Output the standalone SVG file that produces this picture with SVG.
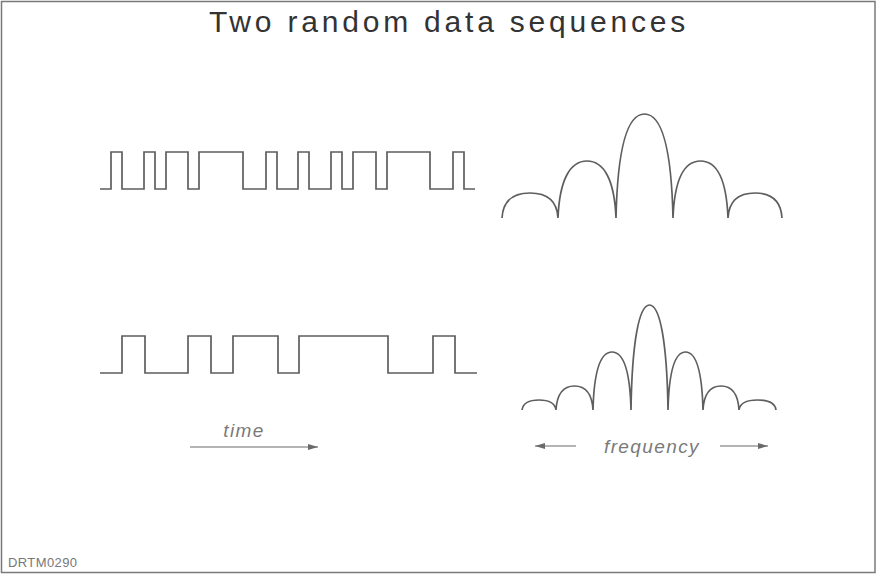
<svg xmlns="http://www.w3.org/2000/svg" width="877" height="575" viewBox="0 0 877 575">
  <style>
    .trace { fill: none; stroke: #5e5e5e; stroke-width: 1.7; stroke-linejoin: miter; }
    .axis { fill: none; stroke: #6a6a6a; stroke-width: 1.2; }
    .title { font-family: "Liberation Sans", Arial, sans-serif; font-size: 30px; fill: #333333; letter-spacing: 3.8px; }
    .label { font-family: "Liberation Sans", Arial, sans-serif; font-style: italic; font-size: 19px; fill: #7a7a7a; letter-spacing: 1.4px; }
    .tag { font-family: "Liberation Sans", Arial, sans-serif; font-size: 13px; fill: #777777; letter-spacing: 0.4px; }
  </style>
  <defs>
    <marker id="head" viewBox="0 0 10 6" refX="10" refY="3" markerWidth="10" markerHeight="6" markerUnits="userSpaceOnUse" orient="auto-start-reverse">
      <path d="M0,0 L10,3 L0,6 Z" fill="#6a6a6a"/>
    </marker>
  </defs>

  <rect x="0" y="0" width="877" height="575" fill="#ffffff"/>
  <rect x="1.5" y="1.5" width="873.5" height="571" fill="none" stroke="#7a7a7a" stroke-width="1.5"/>

  <text class="title" x="449" y="32" text-anchor="middle">Two random data sequences</text>

  <!-- time-domain sequences -->
  <g id="sequence-fast">
    <path class="trace" d="M100,189 H111 V152 H122 V189 H144 V152 H155 V189 H166 V152 H188 V189 H199 V152 H243 V189 H266 V152 H277 V189 H298 V152 H309 V189 H331 V152 H342 V189 H353 V152 H376 V189 H387 V152 H430 V189 H453 V152 H464 V189 H475"/>
  </g>
  <g id="sequence-slow">
    <path class="trace" d="M100,373 H122 V336 H145 V373 H188 V336 H211 V373 H233 V336 H278 V373 H299 V336 H388 V373 H433 V336 H455 V373 H477"/>
  </g>

  <!-- spectra: |sinc|-like lobes -->
  <g id="spectrum-wide">
    <path class="trace" d="M502,218 C503,200 514,193 530,193 C546,193 557,200 558,218
      C559.5,180 570,161 587,161 C604,161 614.5,180 616,218
      C617.5,150 627,114 644.5,114 C662,114 671.5,150 673,218
      C674.5,180 684,161 700.5,161 C717,161 726.5,180 728,218
      C729,200 739,193 755,193 C771,193 781,200 782,218"/>
  </g>
  <g id="spectrum-narrow">
    <path class="trace" d="M522,410 C523,403 529,400 539,400 C549,400 555,403 556,410
      C557,393 564,386 574.5,386 C585,386 592,393 593,410
      C594,370 601,352 612,352 C623,352 630,370 631,410
      C632,342 639,305 649.5,305 C660,305 667,342 668,410
      C669,370 675,352 685.5,352 C696,352 702,370 703,410
      C704,393 710,386 721,386 C732,386 738,393 739,410
      C740,403 747,400 757.5,400 C768,400 775,403 776,410"/>
  </g>

  <!-- axis labels -->
  <g id="time-axis">
    <text class="label" x="244" y="437" text-anchor="middle">time</text>
  </g>
  <g id="frequency-axis">
    <text class="label" x="652" y="453" text-anchor="middle">frequency</text>
  </g>

  <g id="connectors">
    <line class="axis" x1="190" y1="447" x2="318" y2="447" marker-end="url(#head)"/>
    <line class="axis" x1="576" y1="446" x2="535" y2="446" marker-end="url(#head)"/>
    <line class="axis" x1="720" y1="446" x2="768" y2="446" marker-end="url(#head)"/>
  </g>

  <text class="tag" x="8" y="567">DRTM0290</text>
</svg>
